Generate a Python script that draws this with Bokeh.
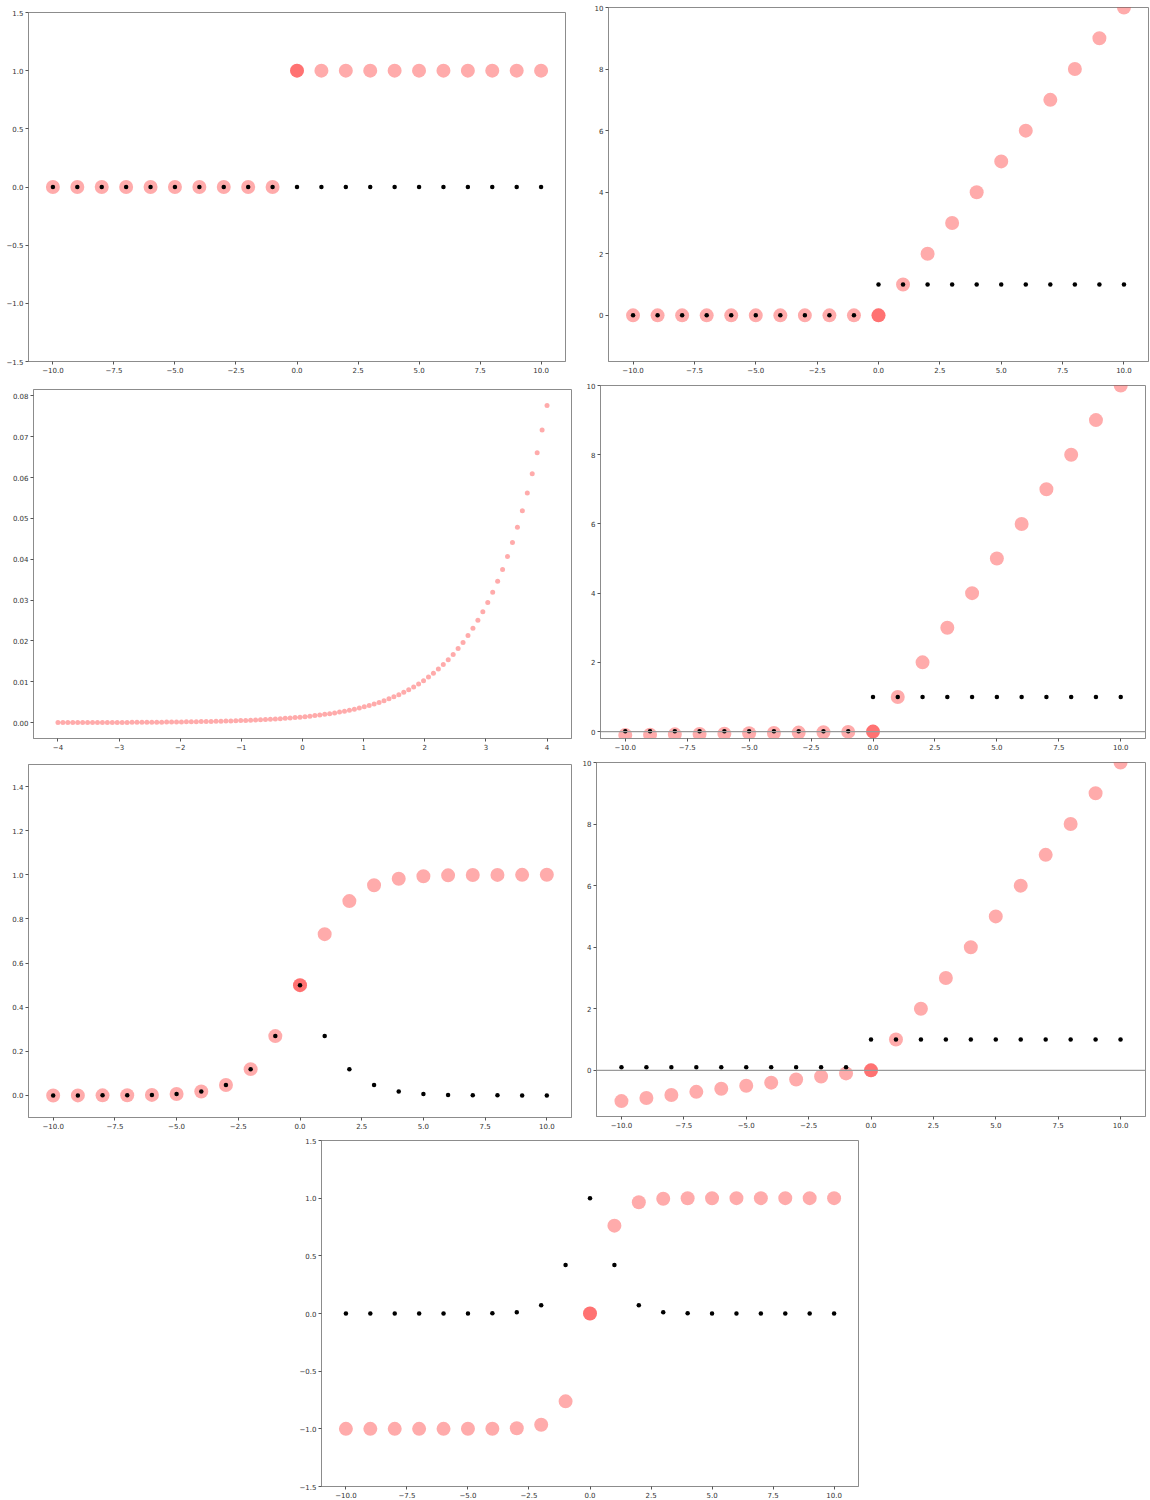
from bokeh.plotting import figure
from bokeh.layouts import column, row
from bokeh.models import FixedTicker, Span, Spacer, Range1d
from bokeh.embed import file_html
from bokeh.resources import INLINE

# ---- data -------------------------------------------------------------
x_int = [-10, -9, -8, -7, -6, -5, -4, -3, -2, -1, 0, 1, 2, 3, 4, 5, 6, 7, 8, 9, 10]

step_y = [0, 0, 0, 0, 0, 0, 0, 0, 0, 0, 1, 1, 1, 1, 1, 1, 1, 1, 1, 1, 1]
step_d = [0, 0, 0, 0, 0, 0, 0, 0, 0, 0, 0, 0, 0, 0, 0, 0, 0, 0, 0, 0, 0]

relu_y = [0, 0, 0, 0, 0, 0, 0, 0, 0, 0, 0, 1, 2, 3, 4, 5, 6, 7, 8, 9, 10]
relu_d = [0, 0, 0, 0, 0, 0, 0, 0, 0, 0, 1, 1, 1, 1, 1, 1, 1, 1, 1, 1, 1]

leaky_small_y = [-0.10, -0.09, -0.08, -0.07, -0.06, -0.05, -0.04, -0.03, -0.02, -0.01,
                 0, 1, 2, 3, 4, 5, 6, 7, 8, 9, 10]
leaky_small_d = [0.01, 0.01, 0.01, 0.01, 0.01, 0.01, 0.01, 0.01, 0.01, 0.01,
                 1, 1, 1, 1, 1, 1, 1, 1, 1, 1, 1]

leaky_big_y = [-1.0, -0.9, -0.8, -0.7, -0.6, -0.5, -0.4, -0.3, -0.2, -0.1,
               0, 1, 2, 3, 4, 5, 6, 7, 8, 9, 10]
leaky_big_d = [0.1, 0.1, 0.1, 0.1, 0.1, 0.1, 0.1, 0.1, 0.1, 0.1,
               1, 1, 1, 1, 1, 1, 1, 1, 1, 1, 1]

sig_y = [0.0000454, 0.000123, 0.000335, 0.000911, 0.002473, 0.006693, 0.017986,
         0.047426, 0.119203, 0.268941, 0.5, 0.731059, 0.880797, 0.952574,
         0.982014, 0.993307, 0.997527, 0.999089, 0.999665, 0.999877, 0.999955]
sig_d = [0.0000454, 0.000123, 0.000335, 0.000911, 0.002473, 0.006693, 0.017986,
         0.047426, 0.119203, 0.268941, 0.5, 0.268941, 0.119203, 0.047426,
         0.017986, 0.006693, 0.002473, 0.000911, 0.000335, 0.000123, 0.0000454]

tanh_y = [-1.0, -1.0, -1.0, -0.999998, -0.999988, -0.999909, -0.999329, -0.995055,
          -0.964028, -0.761594, 0.0, 0.761594, 0.964028, 0.995055, 0.999329,
          0.999909, 0.999988, 0.999998, 1.0, 1.0, 1.0]
tanh_d = [0.0, 0.0, 0.0, 0.0000033, 0.0000246, 0.000182, 0.001341, 0.009866,
          0.070651, 0.419974, 1.0, 0.419974, 0.070651, 0.009866, 0.001341,
          0.000182, 0.0000246, 0.0000033, 0.0, 0.0, 0.0]

soft_x = [-4.0, -3.9192, -3.8384, -3.7576, -3.6768, -3.596, -3.5152, -3.4343, -3.3535, -3.2727,
          -3.1919, -3.1111, -3.0303, -2.9495, -2.8687, -2.7879, -2.7071, -2.6263, -2.5455, -2.4646,
          -2.3838, -2.303, -2.2222, -2.1414, -2.0606, -1.9798, -1.899, -1.8182, -1.7374, -1.6566,
          -1.5758, -1.4949, -1.4141, -1.3333, -1.2525, -1.1717, -1.0909, -1.0101, -0.9293, -0.8485,
          -0.7677, -0.6869, -0.6061, -0.5253, -0.4444, -0.3636, -0.2828, -0.202, -0.1212, -0.0404,
          0.0404, 0.1212, 0.202, 0.2828, 0.3636, 0.4444, 0.5253, 0.6061, 0.6869, 0.7677,
          0.8485, 0.9293, 1.0101, 1.0909, 1.1717, 1.2525, 1.3333, 1.4141, 1.4949, 1.5758,
          1.6566, 1.7374, 1.8182, 1.899, 1.9798, 2.0606, 2.1414, 2.2222, 2.303, 2.3838,
          2.4646, 2.5455, 2.6263, 2.7071, 2.7879, 2.8687, 2.9495, 3.0303, 3.1111, 3.1919,
          3.2727, 3.3535, 3.4343, 3.5152, 3.596, 3.6768, 3.7576, 3.8384, 3.9192, 4.0]
soft_y = [0.0000261, 0.0000283, 0.0000307, 0.0000333, 0.0000361, 0.0000391, 0.0000424, 0.0000460,
          0.0000498, 0.0000540, 0.0000586, 0.0000635, 0.0000688, 0.0000746, 0.0000809, 0.0000877,
          0.0000951, 0.0001031, 0.0001118, 0.0001212, 0.0001314, 0.0001424, 0.0001543, 0.0001673,
          0.0001813, 0.0001966, 0.0002131, 0.0002310, 0.0002504, 0.0002714, 0.0002942, 0.0003190,
          0.0003459, 0.0003750, 0.0004065, 0.0004407, 0.0004778, 0.0005180, 0.0005615, 0.0006088,
          0.0006600, 0.0007156, 0.0007758, 0.0008411, 0.0009119, 0.0009887, 0.0010719, 0.0011621,
          0.0012599, 0.0013659, 0.0014809, 0.0016056, 0.0017408, 0.0018873, 0.0020461, 0.0022183,
          0.0024050, 0.0026074, 0.0028269, 0.0030648, 0.0033228, 0.0036024, 0.0039055, 0.0042342,
          0.0045905, 0.0049769, 0.0053958, 0.0058499, 0.0063422, 0.0068760, 0.0074547, 0.0080821,
          0.0087623, 0.0094998, 0.0102993, 0.0111661, 0.0121059, 0.0131248, 0.0142294, 0.0154270,
          0.0167253, 0.0181329, 0.0196590, 0.0213135, 0.0231073, 0.0250521, 0.0271606, 0.0294464,
          0.0319247, 0.0346116, 0.0375245, 0.0406827, 0.0441067, 0.0478188, 0.0518433, 0.0562065,
          0.0609370, 0.0660656, 0.0716258, 0.0776540]

# ---- tick positions and labels -----------------------------------------
x_ticks = [-10, -7.5, -5, -2.5, 0, 2.5, 5, 7.5, 10]
x_labels = ["\u221210.0", "\u22127.5", "\u22125.0", "\u22122.5", "0.0", "2.5", "5.0", "7.5", "10.0"]

y_ticks_sym = [-1.5, -1.0, -0.5, 0.0, 0.5, 1.0, 1.5]
y_labels_sym = ["\u22121.5", "\u22121.0", "\u22120.5", "0.0", "0.5", "1.0", "1.5"]

y_ticks_lin = [0, 2, 4, 6, 8, 10]
y_labels_lin = ["0", "2", "4", "6", "8", "10"]

soft_x_ticks = [-4, -3, -2, -1, 0, 1, 2, 3, 4]
soft_x_labels = ["\u22124", "\u22123", "\u22122", "\u22121", "0", "1", "2", "3", "4"]
soft_y_ticks = [0.0, 0.01, 0.02, 0.03, 0.04, 0.05, 0.06, 0.07, 0.08]
soft_y_labels = ["0.00", "0.01", "0.02", "0.03", "0.04", "0.05", "0.06", "0.07", "0.08"]

sig_y_ticks = [0.0, 0.2, 0.4, 0.6, 0.8, 1.0, 1.2, 1.4]
sig_y_labels = ["0.0", "0.2", "0.4", "0.6", "0.8", "1.0", "1.2", "1.4"]

FONT = "DejaVu Sans"
FRAME = "#8c8c8c"
RED = "#ff0000"
TOP = 5      # common top border of every panel


def panel(fw, fh, left, right, bottom, xr, yr, xt, xl, yt, yl):
    p = figure(frame_width=fw, frame_height=fh,
               min_border_left=left, min_border_right=right,
               min_border_top=TOP, min_border_bottom=bottom,
               x_range=Range1d(*xr), y_range=Range1d(*yr),
               output_backend="svg", toolbar_location=None,
               background_fill_color="white", border_fill_color="white")
    p.grid.visible = False
    p.outline_line_color = FRAME
    p.outline_line_width = 1
    p.xaxis.ticker = FixedTicker(ticks=xt)
    p.xaxis.major_label_overrides = dict(zip(xt, xl))
    p.yaxis.ticker = FixedTicker(ticks=yt)
    p.yaxis.major_label_overrides = dict(zip(yt, yl))
    for ax in (p.xaxis[0], p.yaxis[0]):
        ax.axis_line_color = FRAME
        ax.major_tick_line_color = "#555555"
        ax.major_tick_out = 3
        ax.major_tick_in = 0
        ax.minor_tick_line_color = None
        ax.major_label_standoff = 2
        ax.major_label_text_font = FONT
        ax.major_label_text_font_size = "7px"
        ax.major_label_text_color = "#333333"
    return p


def activation(p, y, d):
    # function values, the point at x = 0 marked once more, then the derivative
    p.scatter(x_int, y, size=14, fill_color=RED, fill_alpha=0.33, line_color=None)
    i0 = x_int.index(0)
    p.scatter([x_int[i0]], [y[i0]], size=14, fill_color=RED, fill_alpha=0.33, line_color=None)
    p.scatter(x_int, d, size=4.5, fill_color="black", line_color=None)


def zero_line(p):
    p.add_layout(Span(location=0, dimension="width", line_color="#9a9a9a", line_width=1.2))


def offset(p, dy):
    # push a panel down by dy pixels inside its row
    if dy <= 0:
        return p
    return column(Spacer(width=10, height=dy), p, spacing=0)


# step function
p1 = panel(537, 349, 28, 13, 19, (-11, 11), (-1.5, 1.5), x_ticks, x_labels, y_ticks_sym, y_labels_sym)
activation(p1, step_y, step_d)

# ReLU
p2 = panel(540, 354, 30, 2, 19, (-11, 11), (-1.5, 10), x_ticks, x_labels, y_ticks_lin, y_labels_lin)
activation(p2, relu_y, relu_d)

# softmax over an evenly spaced grid
p3 = panel(538, 349, 33, 7, 19, (-4.4, 4.4), (-0.00386, 0.08154), soft_x_ticks, soft_x_labels, soft_y_ticks, soft_y_labels)
p3.scatter(soft_x, soft_y, size=5, fill_color=RED, fill_alpha=0.33, line_color=None)

# leaky ReLU, slope 0.01
p4 = panel(545, 353, 22, 5, 19, (-11, 11), (-0.2, 10), x_ticks, x_labels, y_ticks_lin, y_labels_lin)
zero_line(p4)
activation(p4, leaky_small_y, leaky_small_d)

# sigmoid
p5 = panel(543, 353, 28, 7, 16, (-11, 11), (-0.1, 1.5), x_ticks, x_labels, sig_y_ticks, sig_y_labels)
activation(p5, sig_y, sig_d)

# leaky ReLU, slope 0.1
p6 = panel(549, 354, 18, 5, 17, (-11, 11), (-1.5, 10), x_ticks, x_labels, y_ticks_lin, y_labels_lin)
zero_line(p6)
activation(p6, leaky_big_y, leaky_big_d)

# tanh
p7 = panel(537, 346, 31, 10, 14, (-11, 11), (-1.5, 1.5), x_ticks, x_labels, y_ticks_sym, y_labels_sym)
activation(p7, tanh_y, tanh_d)

layout = column(
    row(offset(p1, 7), offset(p2, 2), spacing=0),
    row(offset(p3, 4), offset(p4, 0), spacing=0),
    row(offset(p5, 2), offset(p6, 0), spacing=0),
    row(Spacer(width=290, height=10), offset(p7, 2), spacing=0),
    spacing=0,
)

open("out.html", "w").write(file_html(layout, INLINE))
